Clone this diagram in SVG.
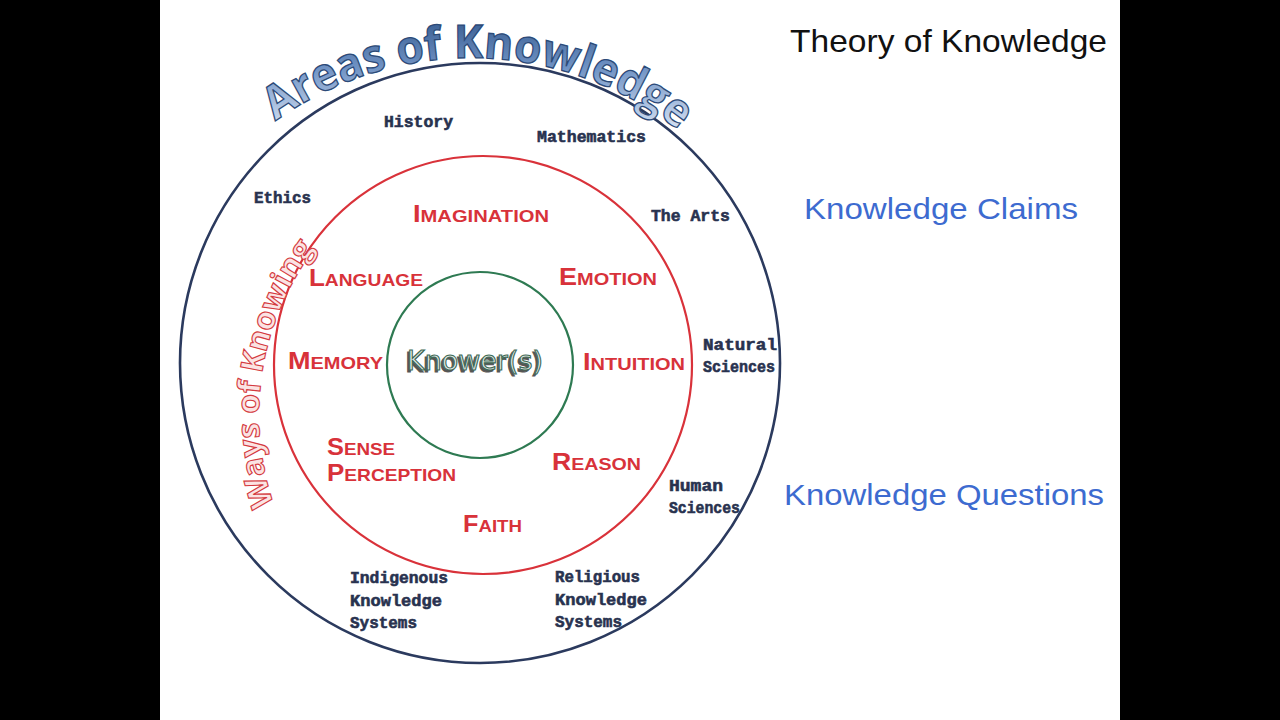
<svg xmlns="http://www.w3.org/2000/svg" width="1280" height="720" viewBox="0 0 1280 720">
<defs>
<linearGradient id="aokGrad" gradientUnits="userSpaceOnUse" x1="0" y1="20" x2="0" y2="125">
<stop offset="0" stop-color="#3a5f93"/>
<stop offset="0.45" stop-color="#6f92c4"/>
<stop offset="1" stop-color="#cddbf0"/>
</linearGradient>
<path id="aokArc" d="M 247.5 143.8 A 334 334 0 0 1 711.3 160.0"/>
<path id="wokArc" d="M 281.0 523.2 A 277 277 0 0 1 326.9 233.3"/>
<style>
.area{font-family:"Liberation Mono",monospace;font-weight:bold;font-size:16.5px;fill:#28324f;stroke:#28324f;stroke-width:0.6px}
.wok{font-family:"Liberation Sans",Arial,sans-serif;font-weight:bold;font-size:17px;fill:#d8323a}
.big{font-size:23px}
.side{font-family:"Liberation Sans",Arial,sans-serif;font-size:30px;fill:#3d6bd0}
</style>
</defs>
<rect x="0" y="0" width="1280" height="720" fill="#ffffff"/>
<rect x="0" y="0" width="160" height="720" fill="#000000"/>
<rect x="1120" y="0" width="160" height="720" fill="#000000"/>

<g id="title">
<text x="790" y="52" font-family="Liberation Sans, Arial, sans-serif" font-size="32" fill="#111111" textLength="317" lengthAdjust="spacingAndGlyphs">Theory of Knowledge</text>
</g>
<g id="knowledge-claims">
<text class="side" x="804" y="219" textLength="274" lengthAdjust="spacingAndGlyphs">Knowledge Claims</text>
</g>
<g id="knowledge-questions">
<text class="side" x="784" y="505" textLength="320" lengthAdjust="spacingAndGlyphs">Knowledge Questions</text>
</g>

<g id="areas-ring">
<circle cx="480" cy="363" r="300" fill="none" stroke="#2b3a5e" stroke-width="2.6"/>
<text font-family="Open Sans, Liberation Sans, sans-serif" font-weight="bold" font-size="46" fill="url(#aokGrad)" stroke="#2c4a78" stroke-width="1.3"><textPath href="#aokArc" startOffset="36" textLength="433" lengthAdjust="spacingAndGlyphs">Areas of Knowledge</textPath></text>
</g>

<g id="ways-ring">
<circle cx="483" cy="365" r="209" fill="none" stroke="#d9323a" stroke-width="2.2"/>
<text font-family="Open Sans, Liberation Sans, sans-serif" font-weight="bold" font-size="31" fill="#fbe3e3" stroke="#d43a40" stroke-width="1.1"><textPath href="#wokArc" startOffset="20" textLength="270" lengthAdjust="spacingAndGlyphs">Ways of Knowing</textPath></text>
</g>

<g id="knower">
<circle cx="480" cy="365" r="93" fill="none" stroke="#2e7a52" stroke-width="2.2"/>
<text x="405" y="372" font-family="DejaVu Sans, sans-serif" font-size="27" fill="#555555" stroke="#555555" stroke-width="1" textLength="136" lengthAdjust="spacingAndGlyphs">Knower(s)</text>
<text x="407" y="370" font-family="DejaVu Sans, sans-serif" font-size="27" fill="#e4e9e5" stroke="#3e6a56" stroke-width="1.1" textLength="136" lengthAdjust="spacingAndGlyphs">Knower(s)</text>
</g>

<g id="wok-imagination"><text class="wok" x="413" y="222" textLength="136" lengthAdjust="spacingAndGlyphs"><tspan class="big">I</tspan>MAGINATION</text></g>
<g id="wok-language"><text class="wok" x="309" y="286" textLength="114" lengthAdjust="spacingAndGlyphs"><tspan class="big">L</tspan>ANGUAGE</text></g>
<g id="wok-emotion"><text class="wok" x="559" y="285" textLength="98" lengthAdjust="spacingAndGlyphs"><tspan class="big">E</tspan>MOTION</text></g>
<g id="wok-memory"><text class="wok" x="288" y="369" textLength="95" lengthAdjust="spacingAndGlyphs"><tspan class="big">M</tspan>EMORY</text></g>
<g id="wok-intuition"><text class="wok" x="583" y="370" textLength="102" lengthAdjust="spacingAndGlyphs"><tspan class="big">I</tspan>NTUITION</text></g>
<g id="wok-sense-perception">
<text class="wok" x="327" y="455" textLength="68" lengthAdjust="spacingAndGlyphs"><tspan class="big">S</tspan>ENSE</text>
<text class="wok" x="327" y="481" textLength="129" lengthAdjust="spacingAndGlyphs"><tspan class="big">P</tspan>ERCEPTION</text>
</g>
<g id="wok-reason"><text class="wok" x="552" y="470" textLength="89" lengthAdjust="spacingAndGlyphs"><tspan class="big">R</tspan>EASON</text></g>
<g id="wok-faith"><text class="wok" x="463" y="532" textLength="59" lengthAdjust="spacingAndGlyphs"><tspan class="big">F</tspan>AITH</text></g>

<g id="aok-history"><text class="area" x="384" y="127" textLength="69" lengthAdjust="spacingAndGlyphs">History</text></g>
<g id="aok-mathematics"><text class="area" x="537" y="142" textLength="109" lengthAdjust="spacingAndGlyphs">Mathematics</text></g>
<g id="aok-ethics"><text class="area" x="254" y="203" textLength="57" lengthAdjust="spacingAndGlyphs">Ethics</text></g>
<g id="aok-arts"><text class="area" x="651" y="221" textLength="79" lengthAdjust="spacingAndGlyphs">The Arts</text></g>
<g id="aok-natural">
<text class="area" x="703" y="350" textLength="74" lengthAdjust="spacingAndGlyphs">Natural</text>
<text class="area" x="703" y="372" textLength="72" lengthAdjust="spacingAndGlyphs">Sciences</text>
</g>
<g id="aok-human">
<text class="area" x="669" y="491" textLength="54" lengthAdjust="spacingAndGlyphs">Human</text>
<text class="area" x="669" y="513" textLength="71" lengthAdjust="spacingAndGlyphs">Sciences</text>
</g>
<g id="aok-indigenous">
<text class="area" x="350" y="583" textLength="98" lengthAdjust="spacingAndGlyphs">Indigenous</text>
<text class="area" x="350" y="606" textLength="92" lengthAdjust="spacingAndGlyphs">Knowledge</text>
<text class="area" x="350" y="628" textLength="67" lengthAdjust="spacingAndGlyphs">Systems</text>
</g>
<g id="aok-religious">
<text class="area" x="555" y="582" textLength="85" lengthAdjust="spacingAndGlyphs">Religious</text>
<text class="area" x="555" y="605" textLength="92" lengthAdjust="spacingAndGlyphs">Knowledge</text>
<text class="area" x="555" y="627" textLength="67" lengthAdjust="spacingAndGlyphs">Systems</text>
</g>
</svg>
